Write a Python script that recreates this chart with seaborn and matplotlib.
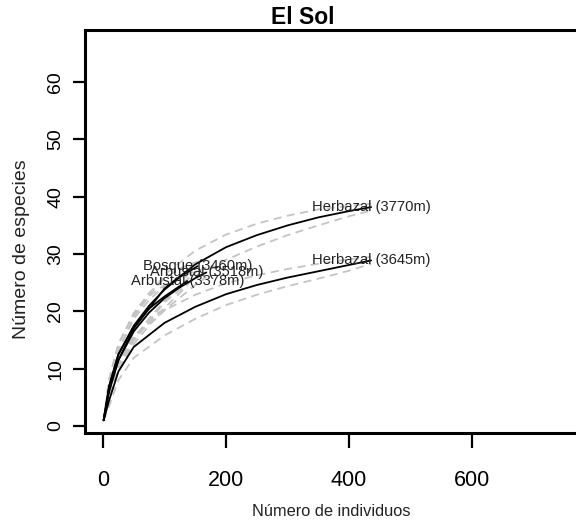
import matplotlib
matplotlib.use("Agg")
import matplotlib.pyplot as plt
import seaborn as sns
import pandas as pd

# Rarefaction curves: individuals sampled vs. expected species, with confidence bands
sites = ["Herbazal (3770m)", "Herbazal (3645m)", "Bosque (3460m)",
         "Arbustal (3518m)", "Arbustal (3378m)"]

n_herb3770 = [1, 10, 25, 50, 100, 150, 200, 250, 300, 350, 400, 436]
s_herb3770 = [1, 6.0, 11.5, 17.0, 24.0, 28.2, 31.2, 33.3, 35.0, 36.4, 37.5, 38.2]
lo_herb3770 = [1, 5.0, 9.9, 14.9, 21.6, 25.8, 29.0, 31.3, 33.3, 35.0, 36.6, 37.6]
hi_herb3770 = [1, 7.0, 13.1, 19.1, 26.4, 30.6, 33.4, 35.3, 36.7, 37.8, 38.4, 38.8]

n_herb3645 = [1, 10, 25, 50, 100, 150, 200, 250, 300, 350, 400, 436]
s_herb3645 = [1, 4.5, 9.5, 13.8, 18.0, 20.8, 23.0, 24.6, 25.9, 27.0, 28.1, 28.9]
lo_herb3645 = [1, 3.5, 8.0, 11.9, 15.8, 18.7, 21.1, 22.9, 24.4, 25.7, 27.1, 28.3]
hi_herb3645 = [1, 5.5, 11.0, 15.7, 20.2, 22.9, 24.9, 26.3, 27.4, 28.3, 29.1, 29.5]

n_bosq3460 = [1, 10, 25, 50, 75, 100, 125, 154]
s_bosq3460 = [1, 7.0, 12.5, 17.5, 21.0, 23.8, 26.0, 27.9]
lo_bosq3460 = [1, 5.8, 10.7, 15.3, 18.8, 21.8, 24.5, 27.1]
hi_bosq3460 = [1, 8.2, 14.3, 19.7, 23.2, 25.8, 27.5, 28.7]

n_arb3518 = [1, 10, 25, 50, 75, 100, 125, 150, 168]
s_arb3518 = [1, 6.5, 11.5, 16.5, 19.8, 22.3, 24.2, 25.8, 26.8]
lo_arb3518 = [1, 5.3, 9.7, 14.3, 17.6, 20.2, 22.4, 24.6, 26.0]
hi_arb3518 = [1, 7.7, 13.3, 18.7, 22.0, 24.4, 26.0, 27.0, 27.6]

n_arb3378 = [1, 10, 25, 50, 75, 100, 137]
s_arb3378 = [1, 7.0, 12.5, 17.3, 20.5, 22.6, 25.3]
lo_arb3378 = [1, 5.8, 10.7, 15.1, 18.3, 20.6, 24.5]
hi_arb3378 = [1, 8.2, 14.3, 19.5, 22.7, 24.6, 26.1]

x_ticks = [0, 200, 400, 600]
y_ticks = [0, 10, 20, 30, 40, 50, 60]

curves = [
    (sites[0], n_herb3770, s_herb3770, lo_herb3770, hi_herb3770),
    (sites[1], n_herb3645, s_herb3645, lo_herb3645, hi_herb3645),
    (sites[2], n_bosq3460, s_bosq3460, lo_bosq3460, hi_bosq3460),
    (sites[3], n_arb3518, s_arb3518, lo_arb3518, hi_arb3518),
    (sites[4], n_arb3378, s_arb3378, lo_arb3378, hi_arb3378),
]

frames = []
for name, n, s, lo, hi in curves:
    frames.append(pd.DataFrame({"site": name, "n": n, "S": s, "lo": lo, "hi": hi}))
df = pd.concat(frames, ignore_index=True)

sns.set_style("ticks")
regular = ["Liberation Sans", "DejaVu Sans"]
plt.rcParams["font.family"] = regular

fig = plt.figure(figsize=(5.76, 5.24), dpi=100)
W, H = 576, 524
left_px, right_px, top_px, bottom_px = 85, 580, 30, 433
ax = fig.add_axes([left_px / W, 1 - bottom_px / H,
                   (right_px - left_px) / W, (bottom_px - top_px) / H])

band_lw = 1.3
for name, sub in df.groupby("site", sort=False):
    for col in ("lo", "hi"):
        sns.lineplot(data=sub, x="n", y=col, ax=ax, color="#c4c4c4",
                     linewidth=band_lw, dashes=(4.5, 3.0), estimator=None,
                     sort=False, zorder=2)
for name, sub in df.groupby("site", sort=False):
    sns.lineplot(data=sub, x="n", y="S", ax=ax, color="black",
                 linewidth=1.3, estimator=None, sort=False, zorder=3)

# label each curve at its final point
for name, sub in df.groupby("site", sort=False):
    ax.text(sub["n"].iloc[-1], sub["S"].iloc[-1], name, ha="center",
            va="center", fontsize=10.6, color="#222222", zorder=4)

ax.set_xlim(-29.3, 775.6)
ax.set_ylim(-1.22, 69.1)
ax.set_xticks(x_ticks)
ax.set_yticks(y_ticks)
ax.set_xticklabels([str(v) for v in x_ticks], fontsize=15.5)
ax.set_yticklabels([str(v) for v in y_ticks], fontsize=14,
                   rotation=90, va="center")
ax.tick_params(axis="x", length=10.5, width=1.6, pad=16, colors="black")
ax.tick_params(axis="y", length=8.6, width=1.6, pad=6.5, colors="black")
for sp in ax.spines.values():
    sp.set_linewidth(2.2)
    sp.set_color("black")

ax.set_xlabel("")
ax.set_ylabel("")
fig.text(331 / W, 1 - 512 / H, "Número de individuos", ha="center",
         va="center", fontsize=11.8, color="#222222")
fig.text(21.5 / W, 1 - 249 / H, "Número de especies", ha="center",
         va="center", rotation=90, fontsize=14, color="#222222")
fig.text(303 / W, 1 - 18 / H, "El Sol", ha="center", va="center",
         fontsize=16.5, fontweight="bold", color="black")

fig.savefig("out.png", dpi=100)
